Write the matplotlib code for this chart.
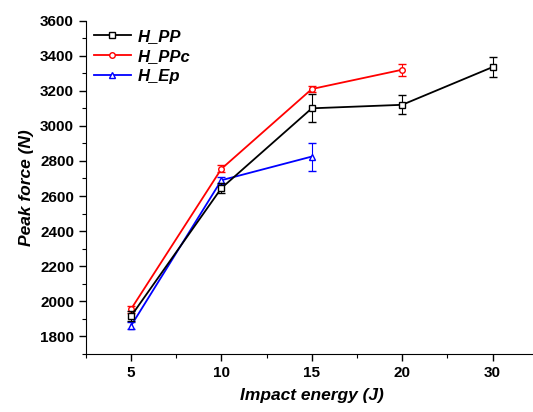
import numpy as np
import matplotlib
matplotlib.use("Agg")
import matplotlib.pyplot as plt
from matplotlib.ticker import MultipleLocator
from matplotlib.lines import Line2D

plt.rcParams['font.family'] = ['Liberation Sans', 'DejaVu Sans']

# data
energy = ['5', '10', '15', '20', '30']
pp = [1915, 2645, 3100, 3120, 3335]
pp_err = [30, 30, 80, 55, 55]
ppc = [1955, 2755, 3210, 3320]
ppc_err = [20, 20, 15, 35]
ep = [1860, 2690, 2825]
ep_err = [20, 20, 80]

fig = plt.figure(figsize=(5.33, 4.12), dpi=100)
ax = fig.add_axes([0.161, 0.141, 0.848, 0.809])

x = np.arange(len(energy))
series = [(pp, pp_err, 'black', 's', 'H_PP', 3),
          (ppc, ppc_err, 'red', 'o', 'H_PPc', 2),
          (ep, ep_err, 'blue', '^', 'H_Ep', 2)]
handles = []
for vals, err, col, mk, name, z in series:
    n = len(vals)
    ax.errorbar(x[:n], vals, yerr=err, color=col, marker=mk, ms=4, mfc='white',
                lw=1.3, capsize=3, elinewidth=0.8, zorder=z)
    handles.append(Line2D([], [], color=col, marker=mk, ms=4, mfc='white',
                          lw=1.3, label=name))

ax.set_xlim(-0.5, 4.5)
ax.set_ylim(1700, 3600)
ax.set_xticks(x)
ax.set_xticklabels(energy)
ax.xaxis.set_minor_locator(MultipleLocator(0.5))
ax.set_yticks(np.arange(1800, 3601, 200))
ax.yaxis.set_minor_locator(MultipleLocator(100))

for side in ['top', 'right']:
    ax.spines[side].set_visible(False)
ax.tick_params(which='major', direction='out', length=5, width=1, labelsize=11)
ax.tick_params(which='minor', direction='out', length=3, width=0.8)
for lab in ax.get_xticklabels() + ax.get_yticklabels():
    lab.set_fontweight('bold')

ax.set_xlabel('Impact energy (J)', fontsize=12.5, fontweight='bold', style='italic', labelpad=6)
ax.set_ylabel('Peak force (N)', fontsize=12.5, fontweight='bold', style='italic', labelpad=4)

ax.legend(handles=handles, loc='upper left', frameon=False, handlelength=2.2,
          prop={'weight': 'bold', 'style': 'italic', 'size': 12},
          borderaxespad=0.1, labelspacing=0.3, handletextpad=0.4)

fig.savefig('out.png', dpi=100)
